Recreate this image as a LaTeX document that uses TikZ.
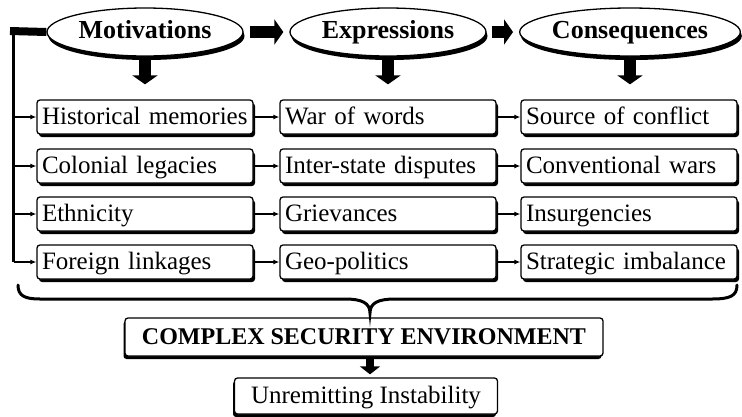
\documentclass[tikz,border=0pt]{standalone}
\usepackage{fontspec}
\setmainfont{Liberation Serif}
\usetikzlibrary{shapes.geometric,shadows,arrows.meta}
\tikzset{
  oval/.style={ellipse, draw, line width=1.3pt, fill=white, minimum width=196pt, minimum height=48pt, inner sep=0pt,
    text height=18pt, text depth=5pt,
    font=\fontsize{26}{30}\selectfont\bfseries,
    drop shadow={shadow xshift=1.5pt, shadow yshift=-4pt, opacity=1, fill=black}},
  item/.style={rectangle, rounded corners=3pt, draw, line width=1.3pt, fill=white, text width=206pt, align=left,
    inner xsep=5pt, inner ysep=0pt, minimum height=34pt, text height=19pt, text depth=4pt,
    font=\fontsize{25}{29}\selectfont,
    drop shadow={shadow xshift=2pt, shadow yshift=-3pt, opacity=1, fill=black}},
  bigbox/.style={rectangle, rounded corners=3pt, draw, line width=1.3pt, fill=white, inner ysep=0pt,
    text height=19pt, text depth=4pt,
    drop shadow={shadow xshift=-1.5pt, shadow yshift=-3pt, opacity=1, fill=black}},
  bigarrow/.style={line width=12pt, -{Triangle[width=25pt,length=9pt]}},
  midarrow/.style={line width=8pt, -{Triangle[width=20pt,length=8pt]}},
  smallarrow/.style={line width=1.6pt, -{Latex[length=6pt,width=5pt]}},
}
\begin{document}
\begin{tikzpicture}[x=1pt,y=-1pt]
\useasboundingbox[fill=white] (0,0) rectangle (742,416);
% ovals
\node[oval] (m) at (145,32) {Motivations};
\node[oval] (e) at (388,32) {Expressions};
\node[oval] (c) at (630,32) {Consequences};
% boxes
\node[item] (b11) at (145,117) {Historical memories};
\node[item] (b21) at (145,166) {Colonial legacies};
\node[item] (b31) at (145,214) {Ethnicity};
\node[item] (b41) at (145,262) {Foreign linkages};
\node[item] (b12) at (388,117) {War of words};
\node[item] (b22) at (388,166) {Inter-state disputes};
\node[item] (b32) at (388,214) {Grievances};
\node[item] (b42) at (388,262) {Geo-politics};
\node[item] (b13) at (629,117) {Source of conflict};
\node[item] (b23) at (629,166) {Conventional wars};
\node[item] (b33) at (629,214) {Insurgencies};
\node[item] (b43) at (629,262) {Strategic imbalance};
% bottom boxes
\node[bigbox, minimum width=478pt, minimum height=38pt, font=\fontsize{24}{28}\selectfont\bfseries] (cse) at (364,337) {COMPLEX SECURITY ENVIRONMENT};
\node[bigbox, minimum width=263pt, minimum height=36pt, font=\fontsize{25}{29}\selectfont] (ui) at (366,396) {Unremitting Instability};
% arrows between ovals
\draw[bigarrow, shorten <=6pt, shorten >=6pt] (m.east) -- (e.west);
\draw[bigarrow, shorten <=5pt, shorten >=6pt] (e.east) -- (c.west);
% arrows down from ovals
\draw[bigarrow, shorten <=2pt, shorten >=15pt] (m.south) -- (m.south |- b11.north);
\draw[bigarrow, shorten <=2pt, shorten >=15pt] (e.south) -- (e.south |- b12.north);
\draw[bigarrow, shorten <=2pt, shorten >=15pt] (c.south) -- (c.south |- b13.north);
% left bracket
\coordinate (lt) at (13.5,31);
\draw[line width=8pt] (10,31) -- (m.west);
\draw[line width=2.6pt] (13.5,27) -- (lt |- b41.west);
\foreach \r in {1,2,3,4}{
  \draw[smallarrow] (lt |- b\r1.west) -- (b\r1.west);
  \draw[smallarrow] (b\r1.east) -- (b\r2.west);
  \draw[smallarrow] (b\r2.east) -- (b\r3.west);
}
% brace
\draw[line width=3pt, line cap=round] (18,285) .. controls (18,296) and (25,299) .. (40,299) -- (345,299)
  .. controls (362,299) and (370,303) .. (370,313)
  .. controls (370,303) and (378,299) .. (395,299) -- (712,299)
  .. controls (730,299) and (737,296) .. (737,285);
% arrow to instability
\draw[midarrow, shorten <=2pt, shorten >=3pt] (cse.south -| 370,0) -- (ui.north -| 370,0);
\end{tikzpicture}
\end{document}
